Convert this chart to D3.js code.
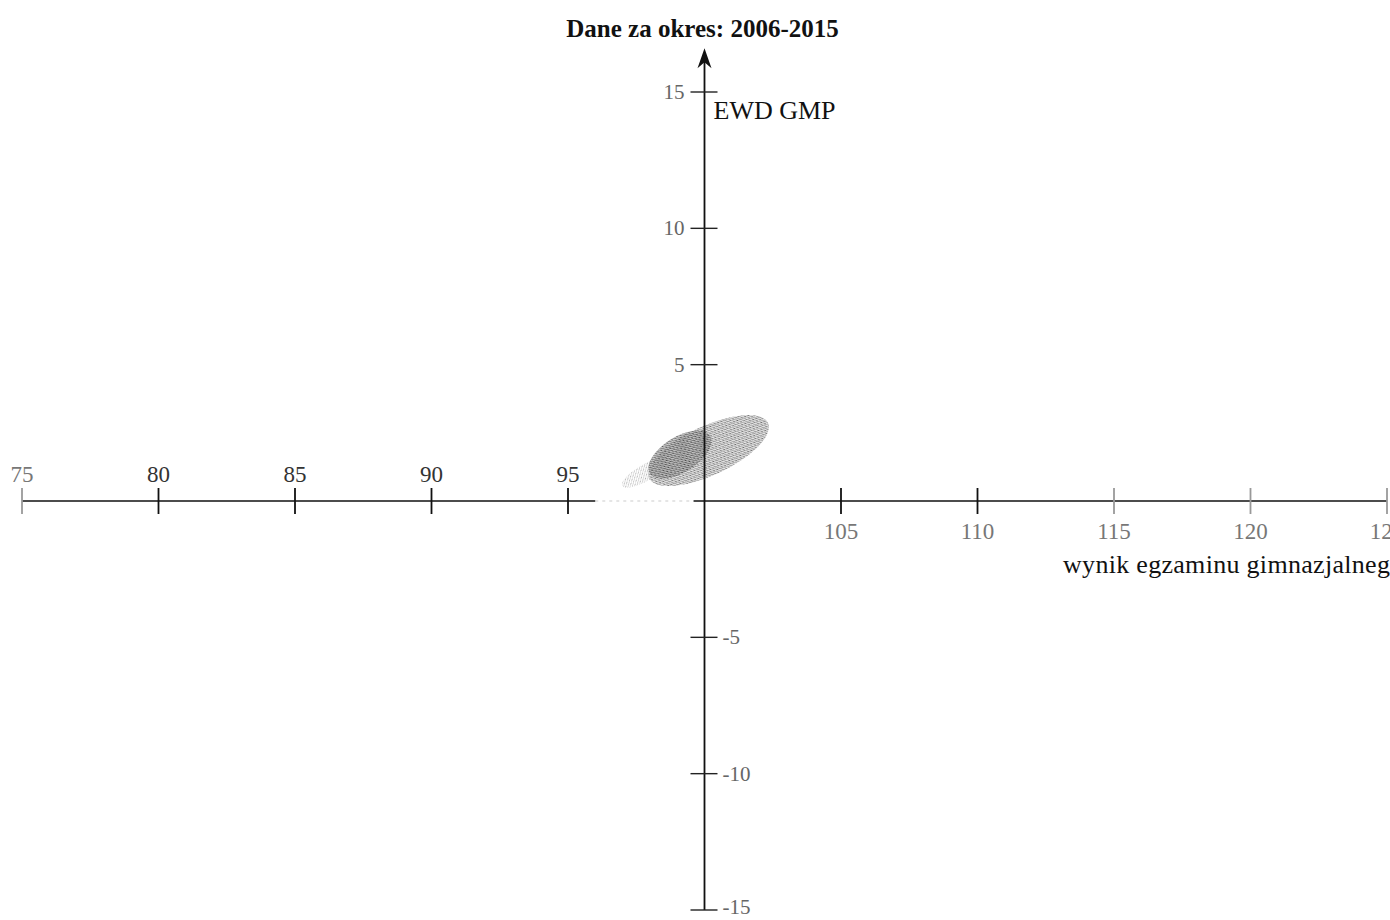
<!DOCTYPE html>
<html><head><meta charset="utf-8">
<script src="https://cdn.jsdelivr.net/npm/d3@7"></script>
<style>
html,body{margin:0;padding:0;background:#fff;overflow:hidden}
svg{display:block}
text{font-family:"Liberation Serif","DejaVu Serif",serif}
</style></head>
<body><svg id="c" width="1390" height="920"></svg>
<script>
// ---- data ----
const title = "Dane za okres: 2006-2015";
const yTitle = "EWD GMP";
const xTitle = "wynik egzaminu gimnazjalnego";
const xDomain = [75, 125];
const yDomain = [-15, 15];
const xTicks = [75, 80, 85, 90, 95, 105, 110, 115, 120, 125];
const yTicks = [-15, -10, -5, 5, 10, 15];
// point-cloud regions (schools), as ellipses in data units
const blobNames  = ["ogon", "całość", "rdzeń"];
const blobCx     = [97.85, 100.15, 99.1];
const blobCy     = [1.05, 1.85, 1.7];
const blobRx     = [1.0, 2.4, 1.3];    // semi-axis along trend (x units)
const blobRy     = [0.3, 0.9, 0.65];   // semi-axis across trend (y units)
const blobAngle  = [30, 25, 32];       // degrees, trend slope

// ---- drawing ----
const svg = d3.select("#c");
const x = d3.scaleLinear().domain(xDomain).range([22, 1387]);
const y = d3.scaleLinear().domain(yDomain).range([910, 92]);
const x0 = x(100), y0 = y(0);
const k = x(1) - x(0);

const defs = svg.append("defs");
function pat(id, bg, dots){
  const p = defs.append("pattern").attr("id", id).attr("width", 3).attr("height", 3)
    .attr("patternUnits", "userSpaceOnUse");
  p.append("rect").attr("width",3).attr("height",3).attr("fill", bg);
  dots.forEach(d => p.append("rect").attr("x", d[0]).attr("y", d[1]).attr("width",1).attr("height",1).attr("fill", d[2]));
}
pat("pLight", "#fff", [[0,0,"#999"],[2,1,"#bbb"],[1,2,"#ccc"]]);
pat("pMid", "#e4e4e4", [[0,0,"#666"],[1,1,"#999"],[2,2,"#888"],[2,0,"#bbb"]]);
pat("pDark", "#bbb", [[0,0,"#222"],[1,1,"#555"],[2,2,"#333"],[0,2,"#888"]]);
const fills = ["url(#pLight)", "url(#pMid)", "url(#pDark)"];
const opac = [0.8, 1, 0.75];

svg.append("g").selectAll("ellipse").data(blobNames).join("ellipse")
  .attr("cx", (d,i) => x(blobCx[i]))
  .attr("cy", (d,i) => y(blobCy[i]))
  .attr("rx", (d,i) => blobRx[i]*k)
  .attr("ry", (d,i) => blobRy[i]*k)
  .attr("transform", (d,i) => `rotate(${-blobAngle[i]} ${x(blobCx[i])} ${y(blobCy[i])})`)
  .attr("fill", (d,i) => fills[i])
  .attr("opacity", (d,i) => opac[i]);

// x axis line (faint section near 96-99.6 as in scan)
const ax = svg.append("g");
ax.append("line").attr("x1", x(75)).attr("x2", x(96)).attr("y1", y0).attr("y2", y0)
  .attr("stroke", "#111").attr("stroke-width", 1.6);
ax.append("line").attr("x1", x(96)).attr("x2", x(99.6)).attr("y1", y0).attr("y2", y0)
  .attr("stroke", "#ccc").attr("stroke-width", 1.2).attr("stroke-dasharray", "3,4");
ax.append("line").attr("x1", x(99.6)).attr("x2", x(125)).attr("y1", y0).attr("y2", y0)
  .attr("stroke", "#111").attr("stroke-width", 1.6);

// x ticks
ax.selectAll(".xt").data(xTicks).join("line").attr("class","xt")
  .attr("x1", d => x(d)).attr("x2", d => x(d))
  .attr("y1", y0 - 13).attr("y2", y0 + 13)
  .attr("stroke", d => (d===75||d===115||d===120||d===125) ? "#999" : "#111")
  .attr("stroke-width", 1.8);
ax.selectAll(".xl").data(xTicks).join("text").attr("class","xl")
  .attr("x", d => x(d))
  .attr("y", d => d < 100 ? y0 - 19 : y0 + 38)
  .attr("text-anchor", "middle")
  .attr("font-size", 23)
  .attr("fill", d => (d===80||d===85||d===95||d===90) ? "#333" : "#777")
  .text(d => d);

// y axis
const ay = svg.append("g");
ay.append("line").attr("x1", x0).attr("x2", x0).attr("y1", y(-15)).attr("y2", y(16.2))
  .attr("stroke", "#111").attr("stroke-width", 1.8);
const tip = y(16.6);
ay.append("path").attr("d", `M${x0},${tip} L${x0-7},${tip+20} L${x0},${tip+14} L${x0+7},${tip+20} Z`)
  .attr("fill", "#111");
ay.selectAll(".yt").data(yTicks).join("line").attr("class","yt")
  .attr("x1", x0 - 14).attr("x2", x0 + 13)
  .attr("y1", d => y(d)).attr("y2", d => y(d))
  .attr("stroke", "#222").attr("stroke-width", 1.4);
ay.selectAll(".yl").data(yTicks).join("text").attr("class","yl")
  .attr("x", d => d > 0 ? x0 - 20 : x0 + 18)
  .attr("y", d => d === -15 ? y(d) + 4 : y(d) + 7)
  .attr("text-anchor", d => d > 0 ? "end" : "start")
  .attr("font-size", 21)
  .attr("fill", "#666")
  .text(d => d < 0 ? "-" + Math.abs(d) : d);

// titles
svg.append("text").attr("x", x0 - 2).attr("y", 37).attr("text-anchor", "middle")
  .attr("font-size", 25).attr("font-weight", "bold").attr("fill", "#111").text(title);
svg.append("text").attr("x", x0 + 9).attr("y", 119)
  .attr("font-size", 26).attr("fill", "#111").text(yTitle);
svg.append("text").attr("x", 1063).attr("y", 573)
  .attr("font-size", 26).attr("letter-spacing", 0.3).attr("fill", "#111").text(xTitle);
</script></body></html>
